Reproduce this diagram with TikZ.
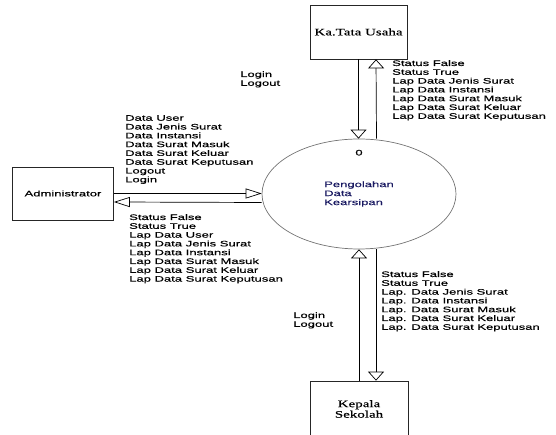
\documentclass[tikz,border=0pt]{standalone}
\usepackage{fontspec}
\usepackage{tikz}
\usetikzlibrary{positioning, shapes, arrows.meta}
\newfontfamily\lblfont[FakeStretch=1.63, FakeBold=0.35]{Liberation Sans}
\newfontfamily\entfont[FakeStretch=1.5, FakeBold=0.5]{Liberation Serif}
\definecolor{procblue}{rgb}{0.1,0.1,0.38}
\tikzstyle{ent}=[%
      rectangle, draw=black!85, line width=0.7pt, fill=none,
      font=\entfont\fontsize{10}{10.5}\selectfont, align=center,
      minimum width=97pt, minimum height=54pt, inner sep=0pt
]
\tikzstyle{proc}=[%
      ellipse, draw=black!55, line width=0.7pt, text=procblue,
      font=\lblfont\fontsize{8}{9}\selectfont, align=left,
      minimum width=194pt, minimum height=110pt, inner sep=0pt
]
\tikzstyle{lbl}=[%
      font=\lblfont\fontsize{8}{8.8}\selectfont, align=left,
      anchor=north west, inner sep=0pt
]
\tikzstyle{hflow}=[-{Triangle[open, length=16pt, width=10pt]}, line width=0.7pt]
\tikzstyle{vflow}=[-{Triangle[open, length=9pt, width=16pt]}, line width=0.7pt]

\begin{document}
\begin{tikzpicture}[x=1pt, y=1pt]
    \useasboundingbox (0,0) rectangle (556,435);

    \node[ent, minimum width=101pt, minimum height=53pt,
          font=\lblfont\fontsize{8}{9}\selectfont] (admin) at (63,241.5) {Administrator};
    \node[ent] (katu) at (358.5,403) {Ka.Tata Usaha};
    \node[ent, minimum width=98pt, minimum height=56pt] (kepsek) at (359,26) {Kepala\\Sekolah};
    \node[proc] (pdk) at (359,241) {Pengolahan\\Data\\Kearsipan};
    \node[lbl] (pnum) [below=11pt of pdk.north] {0};

    \draw[vflow] (katu.south) -- (katu.south |- pdk.north);
    \draw[vflow] ([xshift=17.5pt]pdk.north) -- ([xshift=17.5pt]katu.south);
    \draw[vflow] (kepsek.north) -- (pdk.south);
    \draw[vflow] ([xshift=17pt]pdk.south) -- ([xshift=17pt]kepsek.north);
    \draw[hflow] (admin.east) -- (admin.east -| pdk.west);
    \draw[hflow] ([yshift=-8.5pt]pdk.west) -- ([yshift=-8.5pt]admin.east);

    \node[lbl] (adminout) at (125,320) {Data User\\Data Jenis Surat\\Data Instansi\\Data Surat Masuk\\Data Surat Keluar\\Data Surat Keputusan\\Logout\\Login};
    \node[lbl] (adminin) at (129,221) {Status False\\Status True\\Lap Data User\\Lap Data Jenis Surat\\Lap Data Instansi\\Lap Data Surat Masuk\\Lap Data Surat Keluar\\Lap Data Surat Keputusan};
    \node[lbl] (katuin) at (240,364) {Login\\Logout};
    \node[lbl] (katuout) at (392,375) {Status False\\Status True\\Lap Data Jenis Surat\\Lap Data Instansi\\Lap Data Surat Masuk\\Lap Data Surat Keluar\\Lap Data Surat Keputusan};
    \node[lbl] (kepsekin) at (293,123) {Login\\Logout};
    \node[lbl] (kepsekout) at (381,164) {Status False\\Status True\\Lap. Data Jenis Surat\\Lap. Data Instansi\\Lap. Data Surat Masuk\\Lap. Data Surat Keluar\\Lap. Data Surat Keputusan};
\end{tikzpicture}
\end{document}
